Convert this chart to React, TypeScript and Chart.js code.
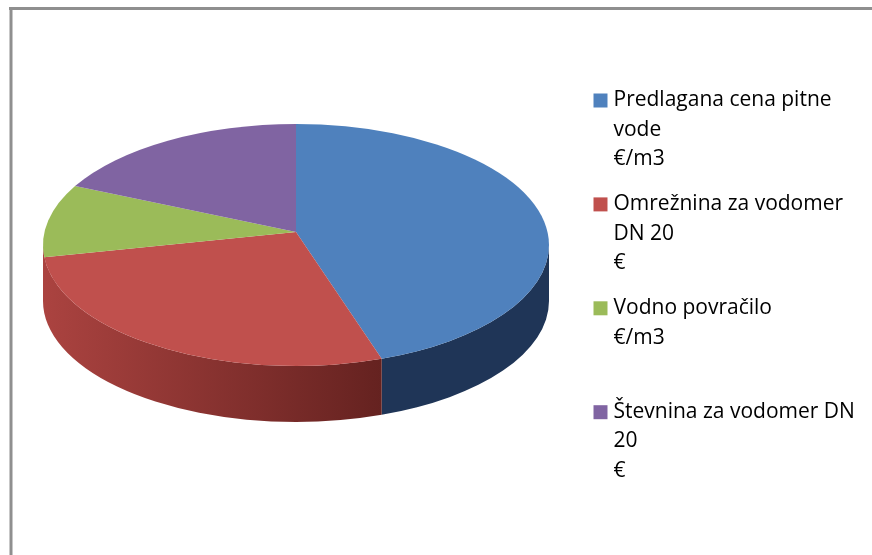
import React, { useEffect, useRef } from "react";
import { Chart, registerables } from "chart.js";

Chart.register(...registerables);

const categories: string[][] = [
  ["Predlagana cena pitne", "vode", "€/m3"],
  ["Omrežnina za vodomer", "DN 20", "€"],
  ["Vodno povračilo", "€/m3", ""],
  ["Števnina za vodomer DN", "20", "€"],
];
const shares = [44.5, 28.9, 9.7, 16.9];
const sliceColors = ["#4f81bd", "#c0504d", "#9bbb59", "#8064a2"];
const wallStops: Record<number, [string, string]> = {
  0: ["#1f3557", "#1f3557"],
  1: ["#ab4340", "#652220"],
};

const SQUASH = 121 / 253;
const DEPTH = 56;
const APEX_LIFT = 13;

const pie3d = {
  id: "pie3d",
  afterLayout(chart: any) {
    const a = chart.chartArea;
    a.left = 43;
    a.right = 549;
    a.width = 506;
    a.top = 0;
    a.bottom = 490;
    a.height = 490;
    chart.legend.left = 582;
    chart.legend.right = 872;
    chart.legend.top = 74;
    chart.legend.bottom = 555;
  },
  beforeDraw(chart: any) {
    const c = chart.ctx;
    c.save();
    c.fillStyle = "#ffffff";
    c.fillRect(0, 0, chart.width, chart.height);
    c.fillStyle = "#8f8f8f";
    c.fillRect(9, 7, chart.width - 9, 3);
    c.fillRect(9.5, 7, 3, chart.height - 7);
    c.restore();
  },
  beforeDatasetsDraw(chart: any) {
    const c = chart.ctx;
    const arcs = chart.getDatasetMeta(0).data;
    c.save();
    arcs.forEach((el: any, i: number) => {
      const stops = wallStops[i];
      if (!stops) return;
      const { x, y, outerRadius: rx, startAngle, endAngle } = el;
      const ry = rx * SQUASH;
      const a0 = Math.max(startAngle, 0);
      const a1 = i === 1 ? Math.PI : Math.min(endAngle, Math.PI);
      const g = c.createLinearGradient(x - rx, 0, x + Math.cos(a0) * rx, 0);
      g.addColorStop(0, stops[0]);
      g.addColorStop(1, stops[1]);
      c.fillStyle = i === 1 ? g : stops[0];
      c.beginPath();
      c.ellipse(x, y, rx, ry, 0, a0, a1);
      c.ellipse(x, y + DEPTH, rx, ry, 0, a1, a0, true);
      c.closePath();
      c.fill();
    });
    arcs.forEach((el: any, i: number) => {
      const { x, y, outerRadius: rx, startAngle, endAngle } = el;
      c.fillStyle = sliceColors[i];
      c.beginPath();
      c.moveTo(x, y - APEX_LIFT);
      c.ellipse(x, y, rx, rx * SQUASH, 0, startAngle, endAngle);
      c.closePath();
      c.fill();
    });
    c.restore();
    return false;
  },
};

export default function App() {
  const ref = useRef<HTMLCanvasElement>(null);
  useEffect(() => {
    const chart = new Chart(ref.current as HTMLCanvasElement, {
      type: "pie",
      data: {
        labels: categories as any,
        datasets: [{ data: shares, backgroundColor: sliceColors, borderWidth: 0 }],
      },
      options: {
        animation: false,
        responsive: false,
        radius: 253,
        layout: { padding: { top: 0, left: 0, right: 0, bottom: 65 } },
        plugins: {
          tooltip: { enabled: false },
          legend: {
            position: "right",
            align: "start",
            labels: {
              color: "#111111",
              font: { family: "'Open Sans'", size: 21, lineHeight: 29.3 / 21 },
              boxWidth: 5,
              boxHeight: 5,
              padding: 16,
              generateLabels: () =>
                categories.map((text, i) => ({
                  text: text as any,
                  fillStyle: sliceColors[i],
                  strokeStyle: sliceColors[i],
                  lineWidth: 9,
                  hidden: false,
                  index: i,
                })),
            },
          },
        },
      } as any,
      plugins: [pie3d as any],
    });
    return () => chart.destroy();
  }, []);
  return (
    <canvas
      ref={ref}
      width={872}
      height={555}
      style={{ position: "absolute", left: 0, top: 0, width: 872, height: 555 }}
    />
  );
}
